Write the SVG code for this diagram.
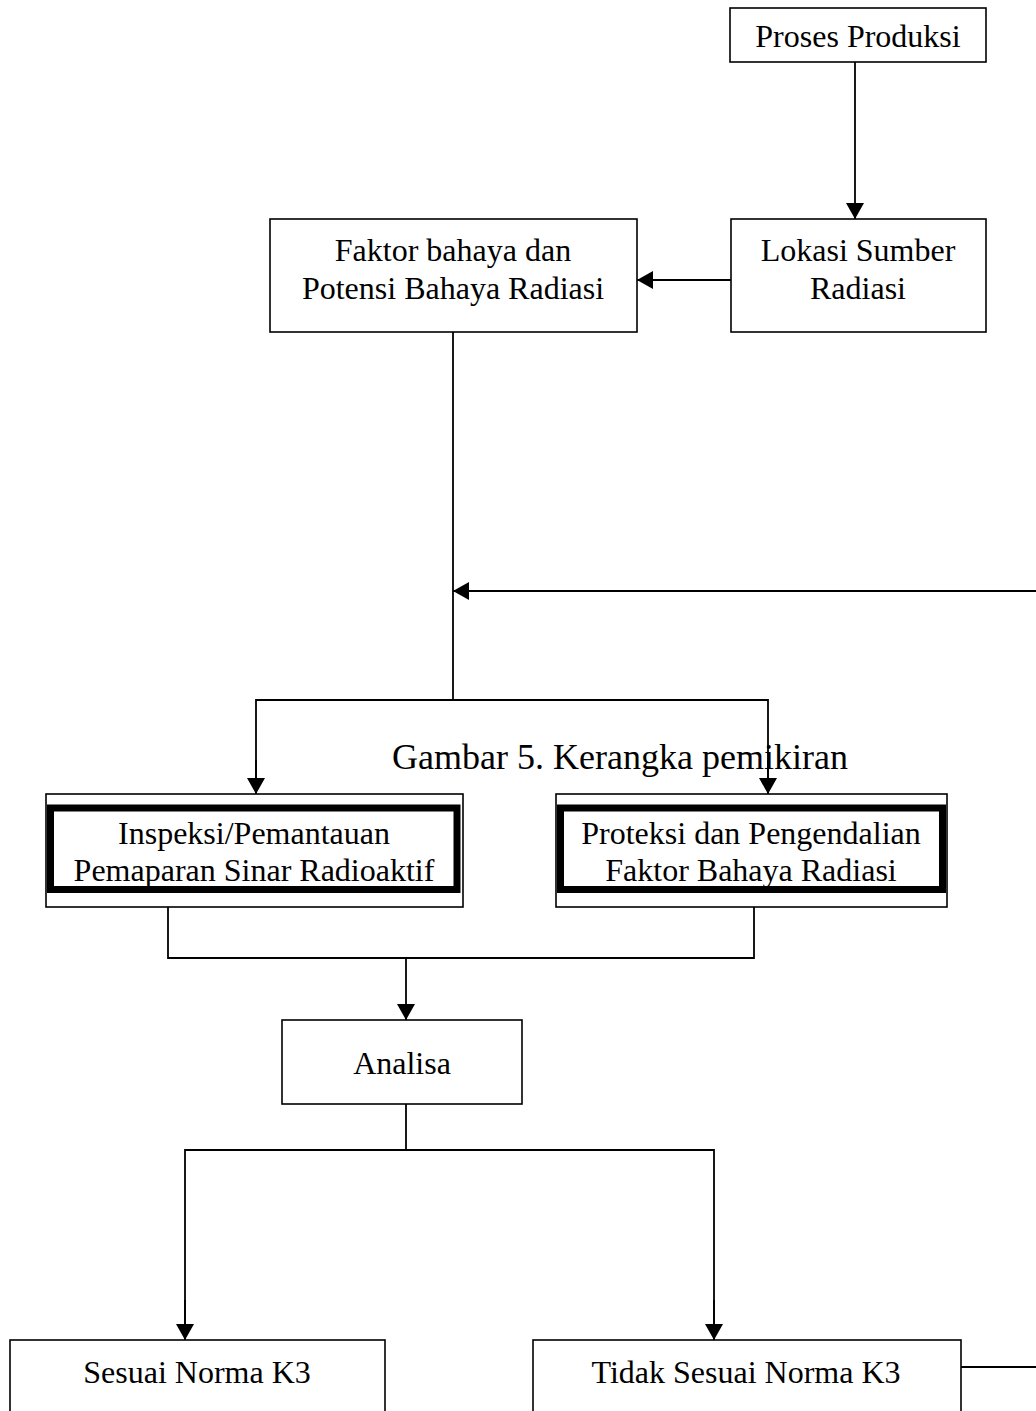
<svg xmlns="http://www.w3.org/2000/svg" width="1036" height="1411" viewBox="0 0 1036 1411">
<style>
.box{fill:#fff;stroke:#000;stroke-width:1.6}
.thick{fill:none;stroke:#000;stroke-width:7}
.ln{fill:none;stroke:#000;stroke-width:1.8}
text{font-family:"Liberation Serif","Times New Roman",serif;font-size:32px;fill:#000;text-anchor:middle}
.cap{font-size:36px}
</style>
<defs>
<marker id="arr" markerWidth="16" markerHeight="18" refX="16" refY="9" orient="auto" markerUnits="userSpaceOnUse">
<path d="M0,0 L16,9 L0,18 Z" fill="#000"/>
</marker>
</defs>
<rect width="1036" height="1411" fill="#fff"/>
<g id="connectors">
<line class="ln" x1="855" y1="62" x2="855" y2="219" marker-end="url(#arr)"/>
<line class="ln" x1="731" y1="280" x2="637" y2="280" marker-end="url(#arr)"/>
<line class="ln" x1="453" y1="332" x2="453" y2="700"/>
<line class="ln" x1="1036" y1="591" x2="453" y2="591" marker-end="url(#arr)"/>
<polyline class="ln" points="256,793 256,700 768,700 768,793"/>
<line class="ln" x1="256" y1="760" x2="256" y2="794" marker-end="url(#arr)"/>
<line class="ln" x1="768" y1="760" x2="768" y2="794" marker-end="url(#arr)"/>
<polyline class="ln" points="168,907 168,958 754,958 754,907"/>
<line class="ln" x1="406" y1="958" x2="406" y2="1020" marker-end="url(#arr)"/>
<line class="ln" x1="406" y1="1104" x2="406" y2="1150"/>
<polyline class="ln" points="185,1340 185,1150 714,1150 714,1340"/>
<line class="ln" x1="185" y1="1300" x2="185" y2="1340" marker-end="url(#arr)"/>
<line class="ln" x1="714" y1="1300" x2="714" y2="1340" marker-end="url(#arr)"/>
<line class="ln" x1="961" y1="1367" x2="1036" y2="1367"/>
</g>
<g id="proses">
<rect class="box" x="730" y="8" width="256" height="54"/>
<text x="858" y="47">Proses Produksi</text>
</g>
<g id="lokasi">
<rect class="box" x="731" y="219" width="255" height="113"/>
<text x="858" y="261">Lokasi Sumber</text>
<text x="858" y="299">Radiasi</text>
</g>
<g id="faktor">
<rect class="box" x="270" y="219" width="367" height="113"/>
<text x="453" y="261">Faktor bahaya dan</text>
<text x="453" y="299">Potensi Bahaya Radiasi</text>
</g>
<g id="caption">
<text class="cap" x="620" y="769">Gambar 5. Kerangka pemikiran</text>
</g>
<g id="inspeksi">
<rect class="box" x="46" y="794" width="417" height="113"/>
<rect class="thick" x="50.5" y="808" width="406.5" height="81.5"/>
<text x="254" y="844">Inspeksi/Pemantauan</text>
<text x="254" y="881">Pemaparan Sinar Radioaktif</text>
</g>
<g id="proteksi">
<rect class="box" x="556" y="794" width="391" height="113"/>
<rect class="thick" x="560.5" y="808" width="382" height="81.5"/>
<text x="751" y="844">Proteksi dan Pengendalian</text>
<text x="751" y="881">Faktor Bahaya Radiasi</text>
</g>
<g id="analisa">
<rect class="box" x="282" y="1020" width="240" height="84"/>
<text x="402" y="1074">Analisa</text>
</g>
<g id="sesuai">
<rect class="box" x="10" y="1340" width="375" height="90"/>
<text x="197" y="1383">Sesuai Norma K3</text>
</g>
<g id="tidak">
<rect class="box" x="533" y="1340" width="428" height="90"/>
<text x="746" y="1383">Tidak Sesuai Norma K3</text>
</g>
</svg>
